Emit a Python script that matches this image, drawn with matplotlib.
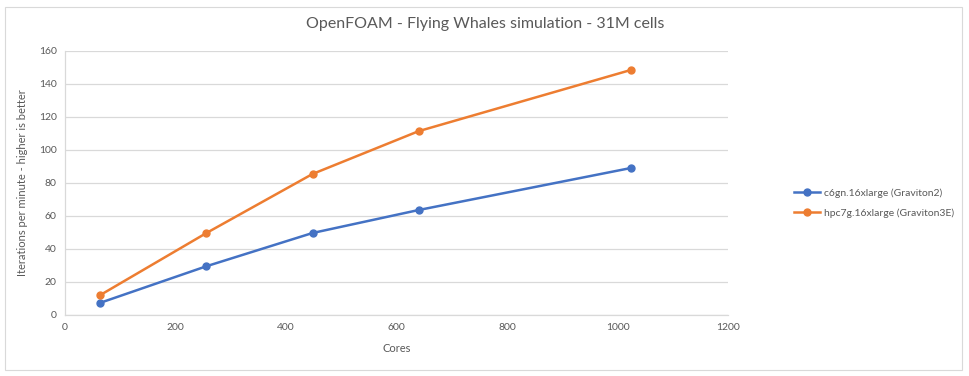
import matplotlib.pyplot as plt
from matplotlib.patches import Rectangle

plt.rcParams['font.family'] = ['Lato', 'DejaVu Sans']

cores = [64, 256, 448, 640, 1024]
graviton2 = [7.4, 29.5, 49.6, 63.5, 88.9]
graviton3e = [12.1, 49.6, 85.3, 111.2, 148.2]
labels = ['c6gn.16xlarge (Graviton2)', 'hpc7g.16xlarge (Graviton3E)']

blue = '#4472c4'
orange = '#ed7d31'
grid_c = '#d9d9d9'
text_c = '#595959'

fig = plt.figure(figsize=(9.7, 3.76), dpi=100)
# light border around the whole chart, like the excel chart area
fig.patches.append(Rectangle((5 / 970, 6 / 376), 957 / 970, 363 / 376, transform=fig.transFigure,
                             fill=False, edgecolor=grid_c, linewidth=0.8))

ax = fig.add_axes([65 / 970, 1 - 315 / 376, 663 / 970, 264.5 / 376])
ax.plot(cores, graviton2, color=blue, marker='o', markersize=5, linewidth=1.8, label=labels[0])
ax.plot(cores, graviton3e, color=orange, marker='o', markersize=5, linewidth=1.8, label=labels[1])

ax.set_xlim(0, 1200)
ax.set_ylim(0, 160)
ax.set_xticks(range(0, 1201, 200))
ax.set_yticks(range(0, 161, 20))
ax.grid(axis='y', color=grid_c, linewidth=0.9)
ax.set_axisbelow(True)
for s in ['top', 'right']:
    ax.spines[s].set_visible(False)
for s in ['left', 'bottom']:
    ax.spines[s].set_color(grid_c)
    ax.spines[s].set_linewidth(0.9)
ax.tick_params(length=0, labelsize=7.5, colors=text_c, pad=6)

ax.set_xlabel('Cores', fontsize=8, color=text_c, labelpad=8)
ax.set_ylabel('Iterations per minute - higher is better', fontsize=8, color=text_c, labelpad=8)
fig.text(0.5, 1 - 24 / 376, 'OpenFOAM - Flying Whales simulation - 31M cells', ha='center', va='center',
         fontsize=11.5, color=text_c)

fig.legend(loc='center left', bbox_to_anchor=(785 / 970, 1 - 203 / 376), frameon=False,
           fontsize=7.5, labelcolor=text_c, handlelength=2.5, labelspacing=1.0, handletextpad=0.3)

fig.savefig('out.png', dpi=100)
